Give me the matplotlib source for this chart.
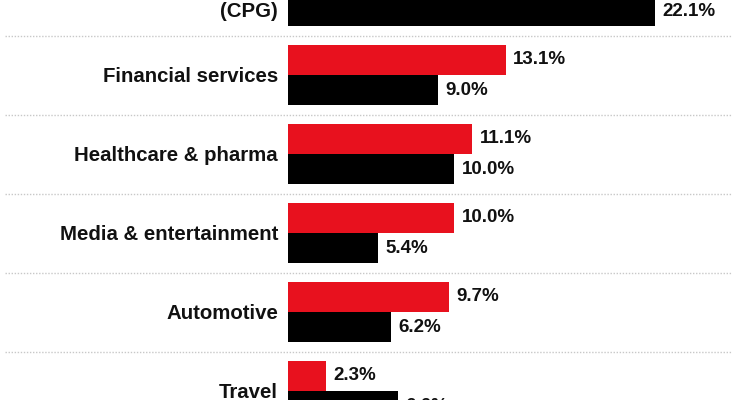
import matplotlib.pyplot as plt
import numpy as np

# industry groups (top one is cut off in the reference view)
categories = ["Consumer packaged goods\n(CPG)", "Financial services", "Healthcare & pharma",
              "Media & entertainment", "Automotive", "Travel"]
red_vals = [24.0, 13.1, 11.1, 10.0, 9.7, 2.3]
black_vals = [22.1, 9.0, 10.0, 5.4, 6.2, 6.6]

RED = "#E8111E"
BLACK = "#000000"

plt.rcParams['font.family'] = ['Liberation Sans', 'DejaVu Sans']

fig = plt.figure(figsize=(7.35, 4.0), dpi=100)
ax = fig.add_axes([288 / 735, 0, 447 / 735, 1])

y = np.arange(len(categories))
h = 0.386

ax.barh(y - h / 2, red_vals, height=h, color=RED)
ax.barh(y + h / 2, black_vals, height=h, color=BLACK)

for yi, r, b in zip(y, red_vals, black_vals):
    ax.text(r + 0.45, yi - h / 2, f"{r:.1f}%", va="center", ha="left",
            fontsize=13.5, fontweight="bold", color="#111111", clip_on=False)
    ax.text(b + 0.45, yi + h / 2, f"{b:.1f}%", va="center", ha="left",
            fontsize=13.5, fontweight="bold", color="#111111", clip_on=False)

# dotted separators between groups, running under the labels too
for yi in y[:-1]:
    ax.axhline(yi + 0.5, xmin=-0.633, xmax=0.993, color="#c8c8c8",
               linestyle=(0, (1, 1.2)), linewidth=1.0, clip_on=False)

# category labels drawn as text, the first one sits partly above the view
for yi, cat in zip(y, categories):
    if "\n" in cat:
        ax.text(-10 / 447, yi + 0.32, cat, transform=ax.get_yaxis_transform(),
                ha="right", va="bottom", fontsize=14.7, fontweight="bold",
                color="#111111", linespacing=1.15)
    else:
        ax.text(-10 / 447, yi + 0.02, cat, transform=ax.get_yaxis_transform(),
                ha="right", va="center", fontsize=14.7, fontweight="bold",
                color="#111111")

ax.set_yticks([])
ax.set_xticks([])

ax.set_xlim(0, 26.9)
ax.set_ylim(1 + 325 / 79, 1 - 75 / 79)

for s in ax.spines.values():
    s.set_visible(False)

fig.savefig("out.png", dpi=100)
